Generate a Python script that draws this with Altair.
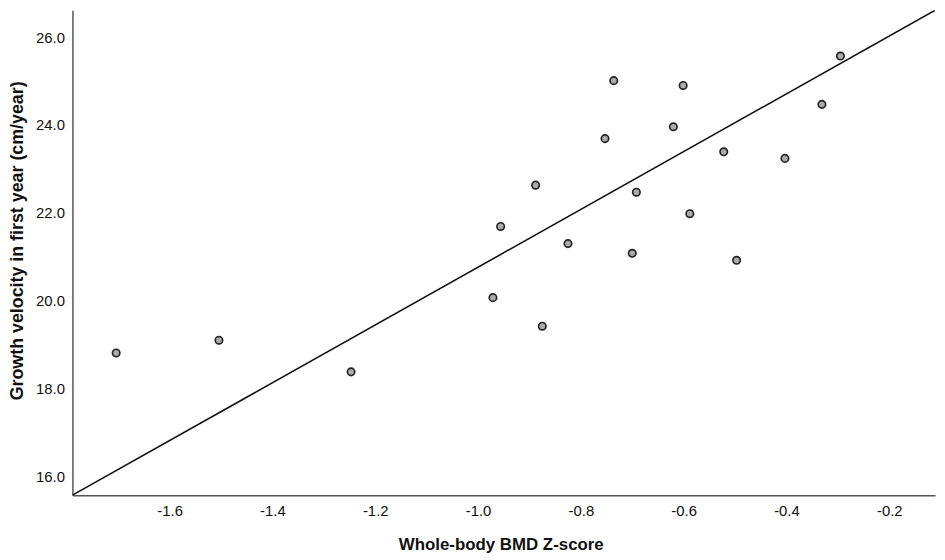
import altair as alt
import pandas as pd

# Data
bmd_z = [-1.704, -1.504, -1.247, -0.971, -0.956, -0.888, -0.875, -0.825, -0.753, -0.736,
         -0.700, -0.692, -0.620, -0.601, -0.588, -0.522, -0.497, -0.403, -0.331, -0.295]
growth_velocity = [18.81, 19.10, 18.38, 20.07, 21.69, 22.63, 19.42, 21.30, 23.69, 25.01,
                   21.08, 22.47, 23.96, 24.90, 21.98, 23.39, 20.92, 23.24, 24.47, 25.57]

# Fit line as drawn (y = intercept + slope * x)
fit_intercept = 27.341
fit_slope = 6.578

x_domain = [-1.789, -0.111]
y_domain = [15.573, 26.61]
x_ticks = [-1.6, -1.4, -1.2, -1.0, -0.8, -0.6, -0.4, -0.2]
y_ticks = [16, 18, 20, 22, 24, 26]

pts = pd.DataFrame({"x": bmd_z, "y": growth_velocity})
fit = pd.DataFrame({"x": x_domain,
                    "y": [fit_intercept + fit_slope * v for v in x_domain]})

FONT = "Liberation Sans"
HYPHEN_LABEL = "datum.value < 0 ? '-' + format(-datum.value, '.1f') : format(datum.value, '.1f')"

x_enc = alt.X("x:Q", scale=alt.Scale(domain=x_domain, nice=False, zero=False),
              axis=alt.Axis(title="Whole-body BMD Z-score", values=x_ticks,
                            labelExpr=HYPHEN_LABEL,
                            grid=False, ticks=False, tickSize=0, labelPadding=9,
                            domainColor="#555555", domainWidth=1.5,
                            labelFont=FONT, labelFontSize=15, labelColor="#111111",
                            titleFont=FONT, titleFontSize=17, titleFontWeight="bold",
                            titleColor="#111111", titleBaseline="middle",
                            titleX=432, titleY=50))
y_enc = alt.Y("y:Q", scale=alt.Scale(domain=y_domain, nice=False, zero=False),
              axis=alt.Axis(title="Growth velocity in first year (cm/year)", values=y_ticks,
                            labelExpr=HYPHEN_LABEL,
                            grid=False, ticks=False, tickSize=0, labelPadding=8,
                            domainColor="#555555", domainWidth=1.5,
                            labelFont=FONT, labelFontSize=15, labelColor="#111111",
                            titleFont=FONT, titleFontSize=18, titleFontWeight="bold",
                            titleColor="#111111", titleBaseline="middle",
                            titleX=-55, titleY=232, titleAngle=270))

line = alt.Chart(fit).mark_line(color="#111111", strokeWidth=1.6, clip=True).encode(
    x=x_enc, y=y_enc)

points = alt.Chart(pts).mark_circle(size=56, fill="#ababab", fillOpacity=1,
                                    stroke="#222222", strokeWidth=1.7, opacity=1).encode(
    x="x:Q", y="y:Q")

chart = (line + points).properties(
    width=870, height=489,
    autosize=alt.AutoSizeParams(type="none"),
    padding={"left": 65, "top": 0, "right": 2, "bottom": 60},
    background="white",
).configure_view(stroke=None)

chart.save("out.html", embed_options={"renderer": "svg", "actions": False})
